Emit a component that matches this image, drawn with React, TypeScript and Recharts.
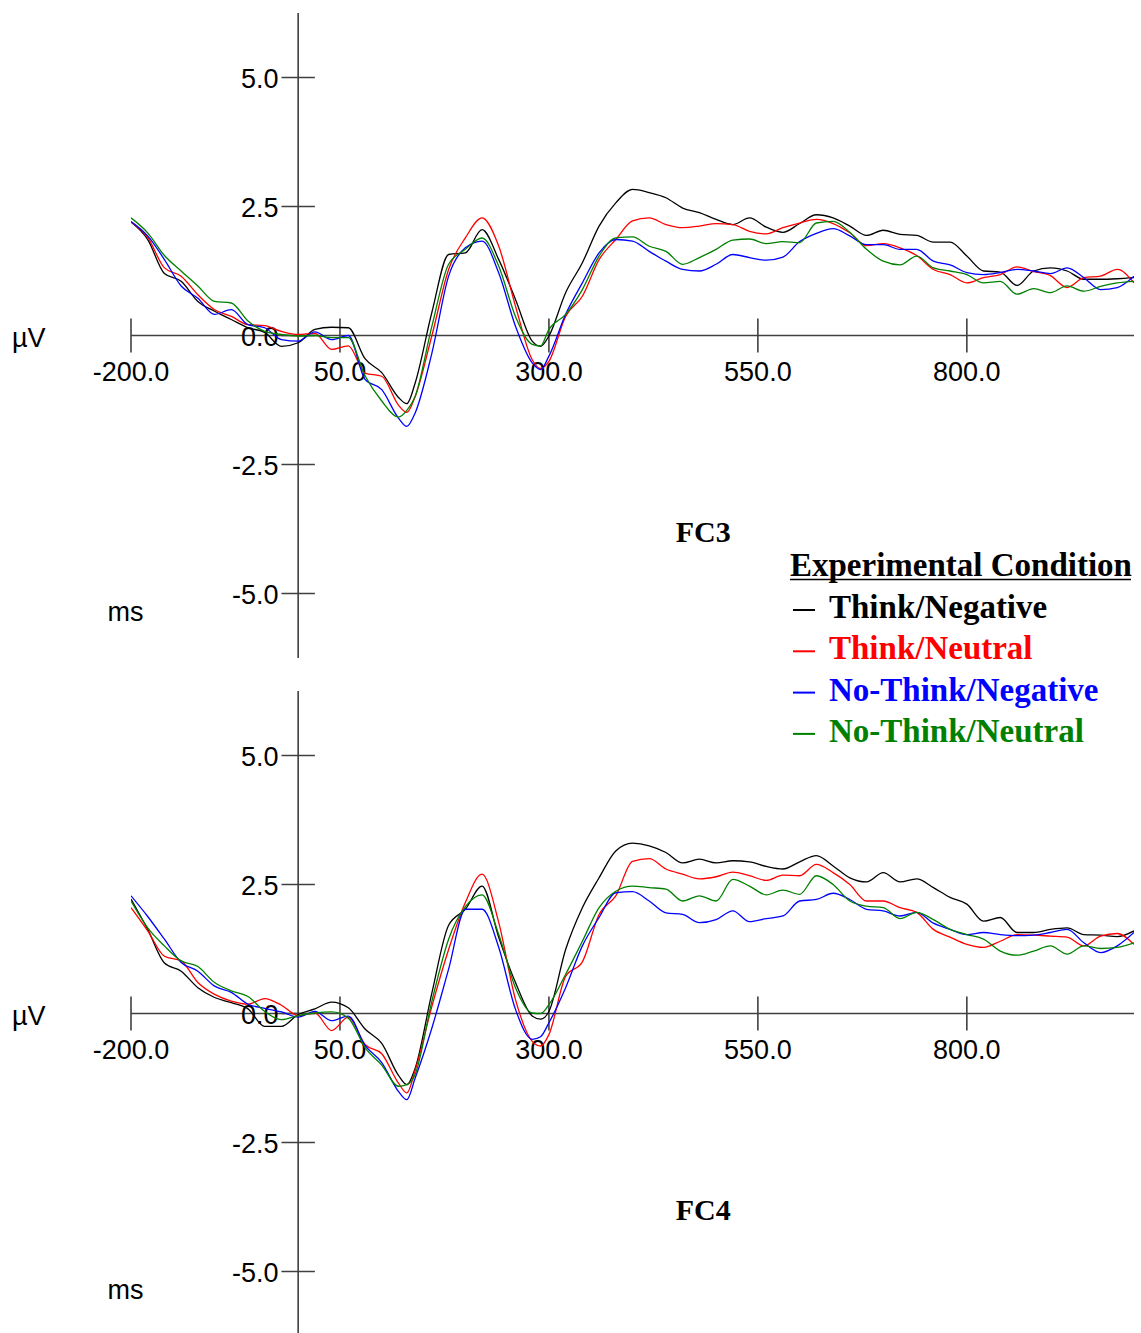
import React from 'react';
import { LineChart, Line, XAxis, YAxis, ReferenceLine, Legend } from 'recharts';

// ---------- data ----------
const times = [
  -200, -180, -160, -140, -120, -100, -80, -60, -40, -20,
  0, 20, 40, 60, 80, 100, 120, 130, 140, 160, 180,
  200, 220, 240, 260, 280, 290, 300, 320, 340, 360, 380,
  400, 420, 440, 460, 480, 500, 520, 540, 560, 580,
  600, 620, 640, 660, 680, 700, 720, 740, 760, 780,
  800, 820, 840, 860, 880, 900, 920, 940, 960, 980, 1000,
];

const fc3ThinkNegative = [
  2.20, 1.86, 1.20, 1.05, 0.66, 0.47, 0.31, 0.15, 0.06, -0.21,
  -0.14, 0.12, 0.16, 0.15, -0.45, -0.72, -1.20, -1.32, -0.92, 0.45, 1.57,
  1.60, 2.05, 1.47, 0.70, -0.11, -0.21, -0.01, 0.83, 1.41, 2.12, 2.57,
  2.83, 2.77, 2.67, 2.47, 2.38, 2.25, 2.15, 2.28, 2.10, 2.00,
  2.17, 2.34, 2.28, 2.12, 1.94, 2.04, 1.96, 1.94, 1.81, 1.81,
  1.54, 1.25, 1.23, 0.97, 1.25, 1.31, 1.25, 1.09, 1.09, 1.10, 1.12,
];
const fc3ThinkNeutral = [
  2.20, 1.90, 1.31, 1.15, 0.79, 0.50, 0.37, 0.21, 0.19, 0.08,
  0.02, 0.04, -0.27, -0.20, -0.73, -0.79, -1.35, -1.49, -1.18, 0.00, 1.28,
  1.89, 2.28, 1.73, 0.57, -0.47, -0.64, -0.50, 0.37, 0.76, 1.47, 1.86,
  2.22, 2.28, 2.15, 2.09, 2.12, 2.17, 2.15, 2.02, 1.97, 2.09,
  2.18, 2.25, 2.17, 1.99, 1.74, 1.78, 1.70, 1.55, 1.28, 1.18,
  1.02, 1.12, 1.18, 1.33, 1.24, 1.16, 0.93, 1.12, 1.15, 1.28, 1.02,
];
const fc3NoThinkNegative = [
  2.21, 1.93, 1.47, 0.96, 0.72, 0.41, 0.50, 0.21, 0.15, -0.08,
  -0.11, 0.07, -0.08, 0.00, -0.85, -1.05, -1.60, -1.76, -1.50, -0.34, 1.15,
  1.70, 1.83, 1.21, 0.18, -0.53, -0.66, -0.40, 0.41, 1.02, 1.60, 1.86,
  1.83, 1.63, 1.44, 1.28, 1.25, 1.38, 1.57, 1.51, 1.46, 1.52,
  1.82, 1.98, 2.07, 1.93, 1.76, 1.76, 1.67, 1.67, 1.44, 1.37,
  1.22, 1.18, 1.22, 1.28, 1.25, 1.20, 1.31, 1.12, 0.89, 0.93, 1.15,
];
const fc3NoThinkNeutral = [
  2.28, 1.99, 1.55, 1.25, 0.96, 0.66, 0.63, 0.28, 0.08, 0.02,
  -0.01, 0.00, -0.04, -0.04, -0.78, -1.27, -1.58, -1.45, -1.18, 0.18, 1.38,
  1.67, 1.89, 1.34, 0.37, -0.17, -0.20, 0.12, 0.41, 0.89, 1.54, 1.89,
  1.91, 1.73, 1.63, 1.38, 1.51, 1.67, 1.85, 1.87, 1.78, 1.82,
  1.80, 2.18, 2.21, 2.00, 1.67, 1.44, 1.37, 1.54, 1.31, 1.25,
  1.18, 1.02, 1.05, 0.80, 0.91, 0.83, 0.96, 0.86, 0.95, 1.02, 1.05,
];

const fc4ThinkNegative = [
  2.22, 1.63, 0.98, 0.82, 0.50, 0.31, 0.21, 0.09, -0.25, -0.25,
  -0.02, 0.09, 0.22, 0.11, -0.30, -0.58, -1.20, -1.38, -1.06, 0.40, 1.71,
  2.02, 2.47, 1.47, 0.60, -0.05, -0.11, 0.04, 1.24, 2.05, 2.63, 3.15,
  3.30, 3.25, 3.12, 2.92, 2.99, 2.92, 2.96, 2.94, 2.85, 2.80,
  2.94, 3.06, 2.86, 2.63, 2.55, 2.73, 2.55, 2.61, 2.44, 2.25,
  2.12, 1.79, 1.86, 1.57, 1.57, 1.63, 1.66, 1.53, 1.52, 1.49, 1.60,
];
const fc4ThinkNeutral = [
  2.05, 1.60, 1.11, 1.02, 0.60, 0.37, 0.24, 0.18, 0.29, 0.16,
  -0.04, 0.01, -0.33, -0.07, -0.60, -0.78, -1.35, -1.54, -1.10, 0.14, 1.24,
  2.15, 2.70, 1.76, 0.27, -0.54, -0.63, -0.41, 0.72, 1.00, 1.92, 2.28,
  2.95, 3.00, 2.80, 2.70, 2.61, 2.65, 2.74, 2.67, 2.58, 2.68,
  2.67, 2.89, 2.73, 2.50, 2.18, 2.18, 2.05, 1.96, 1.63, 1.48,
  1.34, 1.28, 1.40, 1.53, 1.52, 1.50, 1.48, 1.31, 1.50, 1.55, 1.34,
];
const fc4NoThinkNegative = [
  2.28, 1.88, 1.44, 0.99, 0.82, 0.53, 0.41, 0.18, 0.10, 0.03,
  -0.07, 0.04, -0.14, -0.05, -0.62, -0.95, -1.51, -1.67, -1.25, -0.28, 0.86,
  2.02, 2.02, 1.28, 0.08, -0.50, -0.45, -0.18, 0.50, 1.31, 1.86, 2.34,
  2.36, 2.18, 1.95, 1.92, 1.76, 1.82, 1.99, 1.78, 1.84, 1.89,
  2.18, 2.21, 2.33, 2.21, 2.02, 1.99, 1.89, 1.96, 1.75, 1.63,
  1.53, 1.57, 1.53, 1.51, 1.52, 1.57, 1.63, 1.37, 1.18, 1.31, 1.57,
];
const fc4NoThinkNeutral = [
  2.18, 1.66, 1.31, 1.02, 0.91, 0.60, 0.44, 0.33, 0.04, -0.12,
  -0.04, 0.01, 0.03, -0.09, -0.66, -1.00, -1.41, -1.38, -1.18, 0.24, 1.44,
  2.07, 2.30, 1.53, 0.50, 0.01, 0.00, 0.17, 0.76, 1.40, 2.05, 2.37,
  2.47, 2.44, 2.41, 2.18, 2.28, 2.18, 2.60, 2.47, 2.30, 2.39,
  2.31, 2.67, 2.50, 2.18, 2.08, 2.05, 1.84, 1.96, 1.82, 1.63,
  1.53, 1.44, 1.21, 1.13, 1.21, 1.31, 1.15, 1.31, 1.26, 1.28, 1.37,
];

const seriesNames = ['Think/Negative', 'Think/Neutral', 'No-Think/Negative', 'No-Think/Neutral'];
const seriesColors = ['#000000', '#ff0000', '#0000ff', '#008000'];
const xTicks = [-200, 50, 300, 550, 800];
const yTicks = [5, 2.5, 0, -2.5, -5];
const legendTitle = 'Experimental Condition';
const panelTitles = ['FC3', 'FC4'];
const xUnit = 'ms';
const yUnit = 'µV';

// ---------- styling ----------
const SANS = '"Liberation Sans", Arial, sans-serif';
const SERIF = '"Liberation Serif", "Times New Roman", serif';
const AXIS_COLOR = '#404040';
const NUM_SIZE = 27;

const buildRows = (series: number[][]) =>
  times.map((t, i) => {
    const row: Record<string, number> = { t };
    series.forEach((s, k) => {
      row['s' + k] = s[i];
    });
    return row;
  });

const fmt = (v: number) => v.toFixed(1);

const rect = (vb: any) => {
  const x = Math.min(vb.x, vb.x + (vb.width || 0));
  const y = Math.min(vb.y, vb.y + (vb.height || 0));
  return { x, y, w: Math.abs(vb.width || 0), h: Math.abs(vb.height || 0) };
};

const LegendContent = (props: any) => {
  const payload = [...(props.payload || [])].sort(
    (a: any, b: any) => seriesNames.indexOf(a.value) - seriesNames.indexOf(b.value)
  );
  return (
    <svg width={351} height={205} style={{ display: 'block', overflow: 'visible' }}>
      <text x={0} y={28} fontFamily={SERIF} fontWeight="bold" fontSize={33} fill="#000">
        {legendTitle}
      </text>
      <line x1={0} x2={341} y1={31.5} y2={31.5} stroke="#000" strokeWidth={1.6} />
      {payload.map((p: any, i: number) => (
        <g key={i}>
          <line x1={3} x2={25} y1={62 + i * 41.3} y2={62 + i * 41.3} stroke={p.color} strokeWidth={2} />
          <text x={39} y={70 + i * 41.3} fontFamily={SERIF} fontWeight="bold" fontSize={33} fill={p.color}>
            {p.value}
          </text>
        </g>
      ))}
    </svg>
  );
};

function Panel({ series, title, showLegend }: { series: number[][]; title: string; showLegend: boolean }) {
  const rows = buildRows(series);
  return (
    <LineChart
      width={1141}
      height={678}
      data={rows}
      margin={{ top: 13, right: 7, bottom: 20, left: 131 }}
      style={{ overflow: 'visible' }}
    >
      <XAxis type="number" dataKey="t" domain={[-200, 1000]} hide allowDataOverflow />
      <YAxis type="number" domain={[-6.25, 6.25]} hide allowDataOverflow />

      <ReferenceLine
        y={0}
        stroke={AXIS_COLOR}
        strokeWidth={1.6}
        label={(p: any) => {
          const r = rect(p.viewBox);
          return (
            <text x={r.x - 119} y={r.y + 11} fontFamily={SANS} fontSize={NUM_SIZE} fill="#000">
              {yUnit}
            </text>
          );
        }}
      />
      <ReferenceLine
        x={0}
        stroke={AXIS_COLOR}
        strokeWidth={1.6}
        label={(p: any) => {
          const r = rect(p.viewBox);
          return (
            <g>
              <text x={r.x - 172.7} y={r.y + 608} textAnchor="middle" fontFamily={SANS} fontSize={NUM_SIZE} fill="#000">
                {xUnit}
              </text>
              <text x={r.x + 405} y={r.y + 529} textAnchor="middle" fontFamily={SERIF} fontWeight="bold" fontSize={30} fill="#000">
                {title}
              </text>
            </g>
          );
        }}
      />

      {xTicks.map((v) => (
        <ReferenceLine
          key={'xt' + v}
          segment={[{ x: v, y: -0.33 }, { x: v, y: 0.33 }]}
          stroke={AXIS_COLOR}
          strokeWidth={1.6}
          label={(p: any) => {
            const r = rect(p.viewBox);
            return (
              <text x={r.x + r.w / 2} y={r.y + r.h + 28} textAnchor="middle" fontFamily={SANS} fontSize={NUM_SIZE} fill="#000">
                {fmt(v)}
              </text>
            );
          }}
        />
      ))}
      {yTicks.map((v) => (
        <ReferenceLine
          key={'yt' + v}
          segment={[{ x: -20, y: v }, { x: 20, y: v }]}
          stroke={AXIS_COLOR}
          strokeWidth={1.6}
          label={(p: any) => {
            const r = rect(p.viewBox);
            return (
              <text x={r.x - 3} y={r.y + 10.5} textAnchor="end" fontFamily={SANS} fontSize={NUM_SIZE} fill="#000">
                {fmt(v)}
              </text>
            );
          }}
        />
      ))}

      {seriesNames.map((name, k) => (
        <Line
          key={name}
          type="monotone"
          dataKey={'s' + k}
          name={name}
          stroke={seriesColors[k]}
          strokeWidth={1.3}
          dot={false}
          activeDot={false}
          isAnimationActive={false}
        />
      ))}

      {showLegend && (
        <Legend
          layout="horizontal"
          verticalAlign="middle"
          align="center"
          content={LegendContent}
          wrapperStyle={{ left: 790, top: 548, width: 351, height: 205, zIndex: 5 }}
        />
      )}
    </LineChart>
  );
}

export default function App() {
  return (
    <div style={{ position: 'absolute', left: 0, top: 0, width: 1141, height: 1356, background: '#fff' }}>
      <Panel series={[fc3ThinkNegative, fc3ThinkNeutral, fc3NoThinkNegative, fc3NoThinkNeutral]} title={panelTitles[0]} showLegend />
      <Panel series={[fc4ThinkNegative, fc4ThinkNeutral, fc4NoThinkNegative, fc4NoThinkNeutral]} title={panelTitles[1]} showLegend={false} />
    </div>
  );
}
